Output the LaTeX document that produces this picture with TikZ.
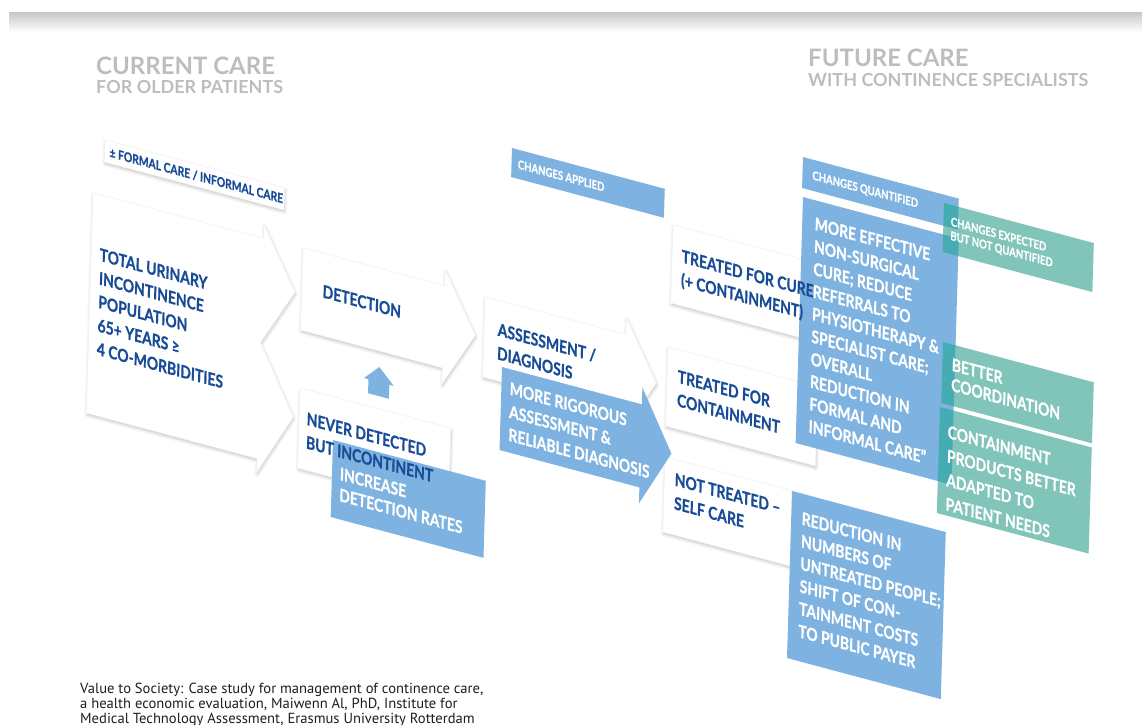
\documentclass[tikz,border=0pt]{standalone}
\usepackage{fontspec}
\setmainfont{Lato}
\newfontfamily\condfont[FakeStretch=0.8, BoldFeatures={FakeBold=0.7}]{Lato}
\newfontfamily\notefont{PT Sans}
\usetikzlibrary{shadows.blur}

\definecolor{ink}{RGB}{24,76,152}
\definecolor{sky}{RGB}{126,178,224}
\definecolor{sea}{RGB}{128,196,186}
\definecolor{deepsea}{RGB}{70,172,180}
\definecolor{mist}{RGB}{188,189,192}
\definecolor{note}{RGB}{30,30,30}

\begin{document}
\begin{tikzpicture}[x=1pt,y=-1pt,
  plane/.style={xslant=0.03, yslant=-0.265},
  card/.style={fill=white, draw=black!6, line width=0.3pt,
    blur shadow={shadow xshift=0.6pt, shadow yshift=-2pt,
      shadow blur radius=3pt, shadow opacity=22}},
  panel/.style={transform shape, anchor=north west, inner sep=0pt, outer sep=0pt},
  bluefill/.style={fill=sky},
  seafill/.style={fill=sea},
  lead/.style={font=\condfont\bfseries\fontsize{17.5pt}{#1}\selectfont},
  lead/.default=23.5pt,
  small/.style={font=\condfont\bfseries\fontsize{12pt}{#1}\selectfont},
  small/.default=14pt,
  inktext/.style={panel, text=ink, align=left},
  paletext/.style={panel, text=white, align=left},
  title/.style={anchor=base west, inner sep=0pt, text=mist,
    font=\bfseries\fontsize{#1}{#1}\selectfont}
]
\useasboundingbox (0,0) rectangle (1142,724);

% top band
\shade[top color=black!22, bottom color=white] (9,12) rectangle (1142,32);

% headings
\node[title=24pt] (curr) at (96,74) {CURRENT CARE};
\node[title=18pt] (currsub) at (96,93) {FOR OLDER PATIENTS};
\node[title=24pt] (fut) at (808,66) {FUTURE CARE};
\node[title=18pt] (futsub) at (808,86) {WITH CONTINENCE SPECIALISTS};

% source note
\node[anchor=north west, inner sep=0pt, align=left, text=note,
  font=\notefont\fontsize{14.6pt}{15pt}\selectfont] (source) at (80,683)
  {Value to Society: Case study for management of continence care,\\
   a health economic evaluation, Maiwenn Al, PhD, Institute for\\
   Medical Technology Assessment, Erasmus University Rotterdam};

% ---------- white cards ----------
\begin{scope}[shift={(105,140)}, plane]
  \node[card, panel, minimum width=181pt, minimum height=22pt] (formalbox) at (0,0) {};
\end{scope}
\begin{scope}[shift={(93,193)}, plane]
  \path[card] (0,0) -- (172,0) -- (172,-14) -- (205,45) -- (172,104)
    -- (207,169) -- (172,234) -- (172,220) -- (0,220) -- cycle;
\end{scope}
\begin{scope}[shift={(303,248)}, plane]
  \path[card] (0,0) -- (143,0) -- (143,-16) -- (175,41) -- (143,98)
    -- (143,82) -- (0,82) -- cycle;
\end{scope}
\begin{scope}[shift={(300,388)}, plane]
  \node[card, panel, minimum width=152pt, minimum height=80pt] (neverbox) at (0,0) {};
\end{scope}
\begin{scope}[shift={(485,297)}, plane]
  \path[card] (0,0) -- (142,0) -- (142,-17) -- (174,40) -- (142,97)
    -- (142,80) -- (0,80) -- cycle;
\end{scope}
\begin{scope}[shift={(673,225)}, plane]
  \node[card, panel, minimum width=150pt, minimum height=78pt] (curebox) at (0,0) {};
\end{scope}
\begin{scope}[shift={(668,347)}, plane]
  \node[card, panel, minimum width=151pt, minimum height=79pt] (contbox) at (0,0) {};
\end{scope}
\begin{scope}[shift={(665,457)}, plane]
  \node[card, panel, minimum width=151pt, minimum height=75pt] (selfbox) at (0,0) {};
\end{scope}

% ---------- blue panels ----------
\begin{scope}[shift={(364,378)}, plane]
  \fill[sky] (15,-15) -- (30,0) -- (25.5,0) -- (25.5,14) -- (4.5,14)
    -- (4.5,0) -- (0,0) -- cycle;
\end{scope}
\begin{scope}[shift={(512,148)}, plane]
  \node[bluefill, panel, minimum width=154pt, minimum height=29pt] (appliedbox) at (0,0) {};
  \node[paletext, small] (applied) at (6.4,10) {CHANGES APPLIED};
\end{scope}
\begin{scope}[shift={(333,440)}, plane]
  \node[bluefill, panel, minimum width=154pt, minimum height=77pt] (raisebox) at (0,0) {};
  \node[paletext, lead=21pt] (raise) at (8,25) {INCREASE\\DETECTION RATES};
\end{scope}
\begin{scope}[shift={(502,367)}, plane]
  \fill[sky] (0,0) -- (141,0) -- (141,-17) -- (172,41) -- (141,99)
    -- (141,83) -- (0,83) -- cycle;
  \node[paletext, lead=23pt] (rigour) at (8.5,12.7)
    {MORE RIGOROUS\\ASSESSMENT \&\\RELIABLE DIAGNOSIS};
\end{scope}
\begin{scope}[shift={(803,157)}, plane]
  \node[bluefill, panel, minimum width=157pt, minimum height=31pt] (quantbox) at (0,0) {};
  \node[paletext, small] (quant) at (10,11) {CHANGES QUANTIFIED};
\end{scope}
\begin{scope}[shift={(803,197)}, plane]
  \node[bluefill, panel, minimum width=157pt, minimum height=246pt] (effectbox) at (0,0) {};
  \node[paletext, lead=22.5pt] (effect) at (12.6,16.7)
    {MORE EFFECTIVE\\NON-SURGICAL\\CURE; REDUCE\\REFERRALS TO\\PHYSIOTHERAPY \&\\%
     SPECIALIST CARE;\\OVERALL\\REDUCTION IN\\FORMAL AND\\INFORMAL CARE”};
\end{scope}
\begin{scope}[shift={(792,491)}, plane]
  \node[bluefill, panel, minimum width=155pt, minimum height=167pt] (fewerbox) at (0,0) {};
  \node[paletext, lead=22.5pt] (fewer) at (10.6,18)
    {REDUCTION IN\\NUMBERS OF\\UNTREATED PEOPLE;\\SHIFT OF CON-\\TAINMENT COSTS\\TO PUBLIC PAYER};
\end{scope}

% ---------- teal panels ----------
\begin{scope}[shift={(944,203)}, plane]
  \node[seafill, panel, minimum width=151pt, minimum height=49pt] (expectbox) at (0,0) {};
\end{scope}
\begin{scope}[shift={(943,342)}, plane]
  \node[seafill, panel, minimum width=152pt, minimum height=61pt] (coordbox) at (0,0) {};
\end{scope}
\begin{scope}[shift={(940,407)}, plane]
  \node[seafill, panel, minimum width=153pt, minimum height=106pt] (adaptbox) at (0,0) {};
\end{scope}

% darker tone where teal lies over blue
\begin{scope}
  \clip (effectbox.north west) -- (effectbox.north east) -- (effectbox.south east)
    -- (effectbox.south west) -- cycle;
  \foreach \b in {expectbox, coordbox, adaptbox}
    \fill[deepsea] (\b.north west) -- (\b.north east) -- (\b.south east) -- (\b.south west) -- cycle;
\end{scope}
\begin{scope}
  \clip (quantbox.north west) -- (quantbox.north east) -- (quantbox.south east)
    -- (quantbox.south west) -- cycle;
  \fill[deepsea] (expectbox.north west) -- (expectbox.north east) -- (expectbox.south east)
    -- (expectbox.south west) -- cycle;
\end{scope}

\begin{scope}[shift={(944,203)}, plane]
  \node[paletext, small=14pt] (expect) at (7.4,12) {CHANGES EXPECTED\\BUT NOT QUANTIFIED};
\end{scope}
\begin{scope}[shift={(943,342)}, plane]
  \node[paletext, lead=20pt] (coord) at (9.5,13.5) {BETTER\\COORDINATION};
\end{scope}
\begin{scope}[shift={(940,407)}, plane]
  \node[paletext, lead=24pt] (adapt) at (8.5,16)
    {CONTAINMENT\\PRODUCTS BETTER\\ADAPTED TO\\PATIENT NEEDS};
\end{scope}

% ---------- labels on white cards ----------
\begin{scope}[shift={(105,140)}, plane]
  \node[inktext, font=\condfont\bfseries\fontsize{13pt}{14pt}\selectfont] (formal) at (5,6)
    {± FORMAL CARE / INFORMAL CARE};
\end{scope}
\begin{scope}[shift={(93,193)}, plane]
  \node[inktext, lead] (total) at (8.6,52.7)
    {TOTAL URINARY\\INCONTINENCE\\POPULATION\\65+ YEARS ≥\\4 CO-MORBIDITIES};
\end{scope}
\begin{scope}[shift={(303,248)}, plane]
  \node[inktext, lead] (detect) at (21,31) {DETECTION};
\end{scope}
\begin{scope}[shift={(300,388)}, plane]
  \node[inktext, lead] (never) at (7.7,22) {NEVER DETECTED\\BUT INCONTINENT};
\end{scope}
\begin{scope}[shift={(485,297)}, plane]
  \node[inktext, lead] (assess) at (13.8,22) {ASSESSMENT /\\DIAGNOSIS};
\end{scope}
\begin{scope}[shift={(673,225)}, plane]
  \node[inktext, lead] (cure) at (9.7,22) {TREATED FOR CURE\\(+ CONTAINMENT)};
\end{scope}
\begin{scope}[shift={(668,347)}, plane]
  \node[inktext, lead] (cont) at (10.7,20) {TREATED FOR\\CONTAINMENT};
\end{scope}
\begin{scope}[shift={(665,457)}, plane]
  \node[inktext, lead] (self) at (10.5,13) {NOT TREATED –\\SELF CARE};
\end{scope}
\end{tikzpicture}
\end{document}
